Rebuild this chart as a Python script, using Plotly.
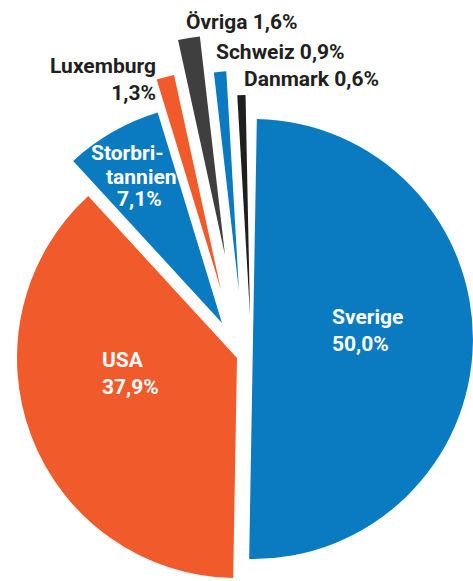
import plotly.graph_objects as go

# ---- data ----
labels = ["Sverige", "USA", "Storbritannien", "Luxemburg", "Övriga", "Schweiz", "Danmark"]
values = [50.0, 37.9, 7.1, 1.3, 1.6, 0.9, 0.6]
value_text = ["50,0%", "37,9%", "7,1%", "1,3%", "1,6%", "0,9%", "0,6%"]
label_lines = [["Sverige"], ["USA"], ["Storbri-", "tannien"], ["Luxemburg"], ["Övriga"], ["Schweiz"], ["Danmark"]]

# ---- style ----
W, H = 473, 581
R = 220                      # pie radius in px
CX, CY = 236, 342            # pie centre in px
ROTATION = 1
BLUE, ORANGE, GREY, BLACK = "#0a7bc1", "#f15a2b", "#3f3f3f", "#1f1f1f"
colors = [BLUE, ORANGE, BLUE, ORANGE, GREY, BLUE, BLACK]
# explode offset of each slice (px, screen direction)
explode = [(17, -3), (1, 16), (-14, -19), (-15, -52), (-11, -87), (3, -51), (14, -27)]
FONT = "Roboto, 'Liberation Sans', Arial, sans-serif"
FS = 21
TEXT_DARK = "#231f20"

# shares are percentages of 100; the rounding remainder stays as an empty gap
remainder = max(0.0, 100.0 - sum(values))
all_labels = labels + [""]
all_values = values + [remainder]

fig = go.Figure()
for i in range(len(values)):
    cx = min(max(CX + explode[i][0], R), W - R)
    cy = min(max(CY + explode[i][1], R), H - R)
    slice_colors = [colors[j] if j == i else "rgba(0,0,0,0)" for j in range(len(values))] + ["rgba(0,0,0,0)"]
    fig.add_trace(go.Pie(
        labels=all_labels, values=all_values, sort=False, direction="clockwise",
        rotation=ROTATION, textinfo="none", hoverinfo="skip",
        marker=dict(colors=slice_colors, line=dict(width=0)),
        domain=dict(x=[(cx - R) / W, (cx + R) / W],
                    y=[1 - (cy + R) / H, 1 - (cy - R) / H]),
        showlegend=False,
    ))

def px(x, y):
    return x / W, 1 - y / H

def note(text, x, y, xanchor="left", align="left", color="white"):
    ax, ay = px(x, y)
    fig.add_annotation(x=ax, y=ay, xref="paper", yref="paper", xanchor=xanchor, yanchor="middle",
                       align=align, showarrow=False, text=text,
                       font=dict(family=FONT, size=FS, color=color, weight="bold"))

# inside labels
note(f"{label_lines[0][0]}<br>{value_text[0]}", 330, 330)
note(f"{label_lines[1][0]}<br>{value_text[1]}", 100, 373)
sb_lines = label_lines[2] + [value_text[2]]
for line, x, y in zip(sb_lines, [127, 141, 139], [153, 177, 199]):
    note(line, x, y, xanchor="center", align="center")

# outside labels
note(f"{label_lines[3][0]}<br>{value_text[3]}", 158, 79, xanchor="right", align="right", color=TEXT_DARK)
for i, x, y in [(4, 184, 22), (5, 214, 52), (6, 242, 79)]:
    note(f"{label_lines[i][0]} {value_text[i]}", x, y, color=TEXT_DARK)

fig.update_layout(width=W, height=H, margin=dict(l=0, r=0, t=0, b=0),
                  paper_bgcolor="white", plot_bgcolor="white")
fig.write_html("out.html", config={"displayModeBar": False},
               post_script="document.body.style.margin='0px';")
